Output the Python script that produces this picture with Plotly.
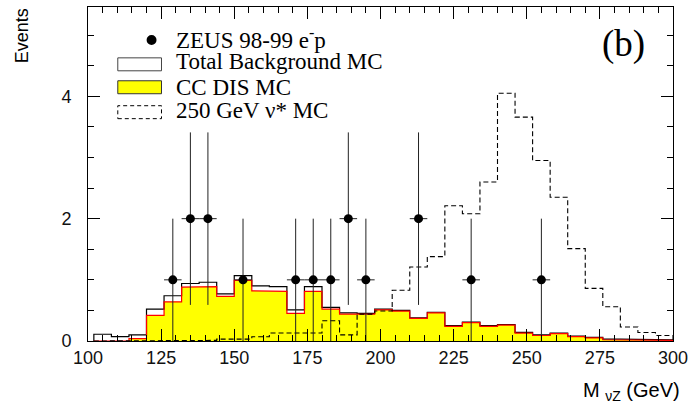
import plotly.graph_objects as go

# ---------------- data ----------------
bin_edges = list(range(102, 301, 6))  # 33 bins of 6 GeV, 102 .. 300

total_bg = [0.11, 0.07, 0.10, 0.52, 0.74, 0.94, 0.96, 0.77, 1.07, 0.90, 0.89,
            0.51, 0.89, 0.55, 0.46, 0.45, 0.52, 0.50, 0.38, 0.47, 0.25, 0.31,
            0.25, 0.27, 0.14, 0.10, 0.13, 0.08, 0.06, 0.03, 0.03, 0.02, 0.02]

cc_dis = [0.00, 0.00, 0.04, 0.42, 0.64, 0.88, 0.89, 0.73, 0.99, 0.82, 0.81,
          0.45, 0.81, 0.52, 0.44, 0.44, 0.51, 0.49, 0.37, 0.46, 0.24, 0.30,
          0.24, 0.26, 0.13, 0.09, 0.12, 0.07, 0.05, 0.02, 0.02, 0.01, 0.01]

signal = [0.00, 0.00, 0.00, 0.00, 0.00, 0.00, 0.01, 0.03, 0.03, 0.07, 0.13,
          0.13, 0.13, 0.33, 0.10, 0.44, 0.49, 0.83, 1.21, 1.38, 2.21, 2.08,
          2.60, 4.05, 3.66, 2.95, 2.35, 1.51, 0.86, 0.56, 0.23, 0.14, 0.09]

data_x = [129, 135, 141, 153, 171, 177, 183, 189, 195, 213, 231, 255]
data_y = [1, 2, 2, 1, 1, 1, 1, 2, 1, 2, 1, 1]
data_yerr = [1.0, 1.41, 1.41, 1.0, 1.0, 1.0, 1.0, 1.41, 1.0, 1.41, 1.0, 1.0]
data_xerr = [3] * len(data_x)

x_ticks = [100, 125, 150, 175, 200, 225, 250, 275, 300]
y_ticks = [0, 2, 4]

legend_labels = ["ZEUS 98-99 e<sup>-</sup>p", "Total Background MC",
                 "CC DIS MC", "250 GeV ν* MC"]

# ---------------- helpers ----------------
W, H = 694, 413
L, R, T, B = 88, 677, 6, 341


def px_x(p):
    return (p - L) / (R - L)


def px_y(p):
    return (B - p) / (B - T)


def steps(vals):
    xs, ys = [bin_edges[0]], [0]
    for i, v in enumerate(vals):
        xs += [bin_edges[i], bin_edges[i + 1]]
        ys += [v, v]
    xs.append(bin_edges[-1])
    ys.append(0)
    return xs, ys


fig = go.Figure()

cx, cy = steps(cc_dis)
tx, ty = steps(total_bg)
sx, sy = steps(signal)

fig.add_trace(go.Scatter(x=cx, y=cy, mode="lines", fill="tozeroy",
                         fillcolor="#ffff00", line=dict(width=0),
                         hoverinfo="skip", showlegend=False))
fig.add_trace(go.Scatter(x=tx, y=ty, mode="lines",
                         line=dict(color="black", width=1.2),
                         showlegend=False))
fig.add_trace(go.Scatter(x=cx, y=cy, mode="lines",
                         line=dict(color="#ff0000", width=1.2),
                         showlegend=False))
fig.add_trace(go.Scatter(x=sx, y=sy, mode="lines",
                         line=dict(color="black", width=1.1, dash="5px,3px"),
                         showlegend=False))
fig.add_trace(go.Scatter(
    x=data_x, y=data_y, mode="markers",
    marker=dict(color="black", size=9, symbol="circle"),
    error_y=dict(type="data", array=data_yerr, visible=True,
                 color="#222", thickness=1, width=0),
    error_x=dict(type="data", array=data_xerr, visible=True,
                 color="#222", thickness=1, width=0),
    showlegend=False))

# ---------------- manual legend ----------------
shapes = []
shapes.append(dict(type="circle", xref="paper", yref="paper",
                   x0=px_x(147), x1=px_x(157), y0=px_y(44), y1=px_y(34),
                   fillcolor="black", line=dict(color="black", width=0)))
shapes.append(dict(type="rect", xref="paper", yref="paper",
                   x0=px_x(118), x1=px_x(162), y0=px_y(70), y1=px_y(57),
                   fillcolor="white", line=dict(color="#444", width=1)))
shapes.append(dict(type="rect", xref="paper", yref="paper",
                   x0=px_x(118), x1=px_x(162), y0=px_y(93), y1=px_y(80),
                   fillcolor="#ffff00", line=dict(color="#333", width=1)))
shapes.append(dict(type="rect", xref="paper", yref="paper",
                   x0=px_x(118), x1=px_x(162), y0=px_y(118), y1=px_y(105),
                   fillcolor="rgba(0,0,0,0)",
                   line=dict(color="black", width=1, dash="4px,3px")))

serif = "Liberation Serif, Times New Roman, serif"
sans = "Liberation Sans, Arial, Helvetica, sans-serif"

annotations = []
for lbl, yc in zip(legend_labels, [38, 61, 87, 110]):
    annotations.append(dict(text=lbl, xref="paper", yref="paper",
                            x=px_x(175), y=px_y(yc), xanchor="left",
                            yanchor="middle", showarrow=False,
                            font=dict(family=serif, size=23, color="black")))
annotations.append(dict(text="(b)", xref="paper", yref="paper",
                        x=px_x(627), y=px_y(43), xanchor="center",
                        yanchor="middle", showarrow=False,
                        font=dict(family=serif, size=37, color="black")))
annotations.append(dict(text="Events", xref="paper", yref="paper",
                        x=px_x(21), y=px_y(35), xanchor="center",
                        yanchor="middle", textangle=-90, showarrow=False,
                        font=dict(family=sans, size=18, color="black")))
annotations.append(dict(text="M&nbsp;<sub>νZ</sub>&nbsp;(GeV)",
                        xref="paper", yref="paper", x=px_x(686),
                        y=px_y(392), xanchor="right", yanchor="middle",
                        showarrow=False,
                        font=dict(family=sans, size=20, color="black")))

fig.update_layout(
    width=W, height=H,
    margin=dict(l=L, r=W - R, t=T, b=H - B, pad=0),
    plot_bgcolor="white", paper_bgcolor="white",
    shapes=shapes, annotations=annotations,
    showlegend=False,
    xaxis=dict(range=[100, 300], tickvals=x_ticks,
               ticktext=[str(v) for v in x_ticks],
               ticks="inside", ticklen=12, tickwidth=1, tickcolor="black",
               minor=dict(dtick=5, ticks="inside", ticklen=6,
                          tickcolor="black", tickwidth=1),
               showline=True, linecolor="black", linewidth=1,
               mirror="allticks", showgrid=False, zeroline=False,
               tickfont=dict(family=sans, size=18, color="#111")),
    yaxis=dict(range=[0, 5.46], tickvals=y_ticks,
               ticks="inside", ticklen=12, tickwidth=1, tickcolor="black",
               minor=dict(dtick=0.5, ticks="inside", ticklen=6,
                          tickcolor="black", tickwidth=1),
               showline=True, linecolor="black", linewidth=1,
               mirror="allticks", showgrid=False, zeroline=False,
               ticklabelstandoff=12,
               tickfont=dict(family=sans, size=18, color="#111")),
)

fig.write_html("out.html",
               config={"displayModeBar": False},
               post_script="document.body.style.margin='0';"
                           "document.body.style.padding='0';")
